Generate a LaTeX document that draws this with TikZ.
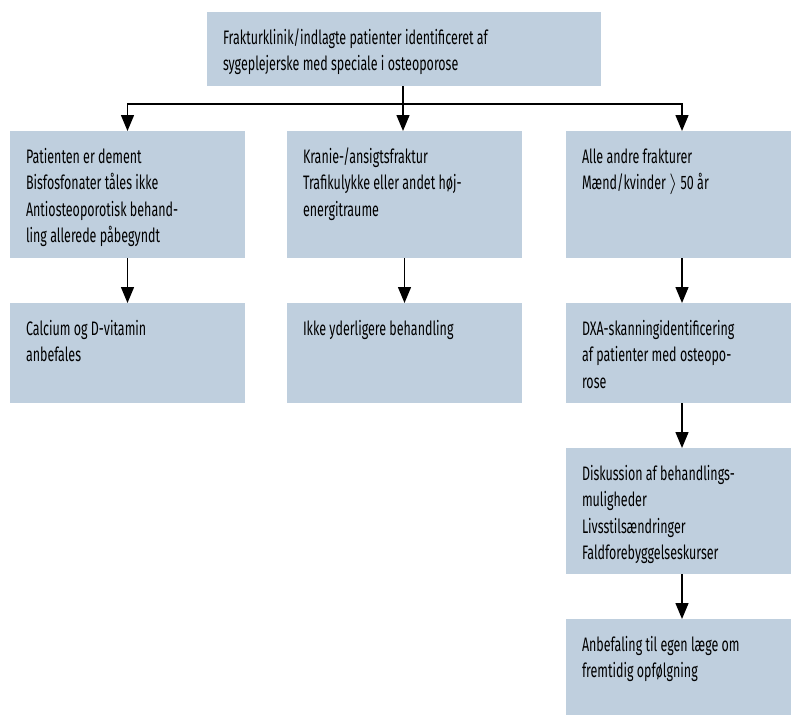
\documentclass[tikz,border=0pt]{standalone}
\usepackage{fontspec}
\setmainfont{Fira Sans}[FakeStretch=0.64]
\usetikzlibrary{arrows.meta}
\definecolor{boxfill}{RGB}{191,207,222}
\tikzset{
  box/.style 2 args={fill=boxfill, draw=none, inner sep=0pt, outer sep=0pt,
    minimum width=#1, minimum height=#2, anchor=north west},
  txt/.style={anchor=north west, inner sep=0pt, outer sep=0pt, align=left,
    font=\fontsize{19.5}{26.6}\selectfont},
  arr/.style={draw=black, line width=1.4pt, -{Triangle[length=16pt,width=13pt]}},
}
\newcommand{\fs}{\rule{0pt}{17pt}}
\begin{document}
\begin{tikzpicture}[x=1pt,y=-1pt]
\useasboundingbox (0,0) rectangle (791,715);
% boxes
\node[box={394pt}{74pt}] (top) at (207,12) {};
\node[box={235pt}{127pt}] (a1) at (10,131) {};
\node[box={235pt}{127pt}] (b1) at (287,131) {};
\node[box={232pt}{127pt}] (c1) at (566,131) {};
\node[box={235pt}{100pt}] (a2) at (10,303) {};
\node[box={235pt}{100pt}] (b2) at (287,303) {};
\node[box={232pt}{100pt}] (c2) at (566,303) {};
\node[box={232pt}{126pt}] (c3) at (566,448) {};
\node[box={232pt}{96pt}] (c4) at (566,619) {};
% texts
\node[txt] (ttop) at (223,27) {\fs Frakturklinik/indlagte patienter identificeret af\\sygeplejerske med speciale i osteoporose};
\node[txt] (ta1) at (26,146) {\fs Patienten er dement\\Bisfosfonater tåles ikke\\Antiosteoporotisk behand-\\ling allerede påbegyndt};
\node[txt] (tb1) at (303,146) {\fs Kranie-/ansigtsfraktur\\Trafikulykke eller andet høj-\\energitraume};
\node[txt] (tc1) at (582,146) {\fs Alle andre frakturer\\Mænd/kvinder $\rangle$ 50 år};
\node[txt] (ta2) at (26,318) {\fs Calcium og D-vitamin\\anbefales};
\node[txt] (tb2) at (303,318) {\fs Ikke yderligere behandling};
\node[txt] (tc2) at (582,318) {\fs DXA-skanningidentificering\\af patienter med osteopo-\\rose};
\node[txt] (tc3) at (582,463) {\fs Diskussion af behandlings-\\muligheder\\Livsstilsændringer\\Faldforebyggelseskurser};
\node[txt] (tc4) at (582,634) {\fs Anbefaling til egen læge om\\fremtidig opfølgning};
% connectors
\coordinate (split) at (403,104);
\draw[arr] (top.south -| split) -- (split) -| (a1.north);
\draw[arr] (split) -- (split |- b1.north);
\draw[arr] (split) -| (c1.north);
\draw[arr] (a1.south) -- (a2.north);
\draw[arr] (b1.south) -- (b2.north);
\draw[arr] (c1.south) -- (c2.north);
\draw[arr] (c2.south) -- (c3.north);
\draw[arr] (c3.south) -- (c4.north);
\end{tikzpicture}
\end{document}
